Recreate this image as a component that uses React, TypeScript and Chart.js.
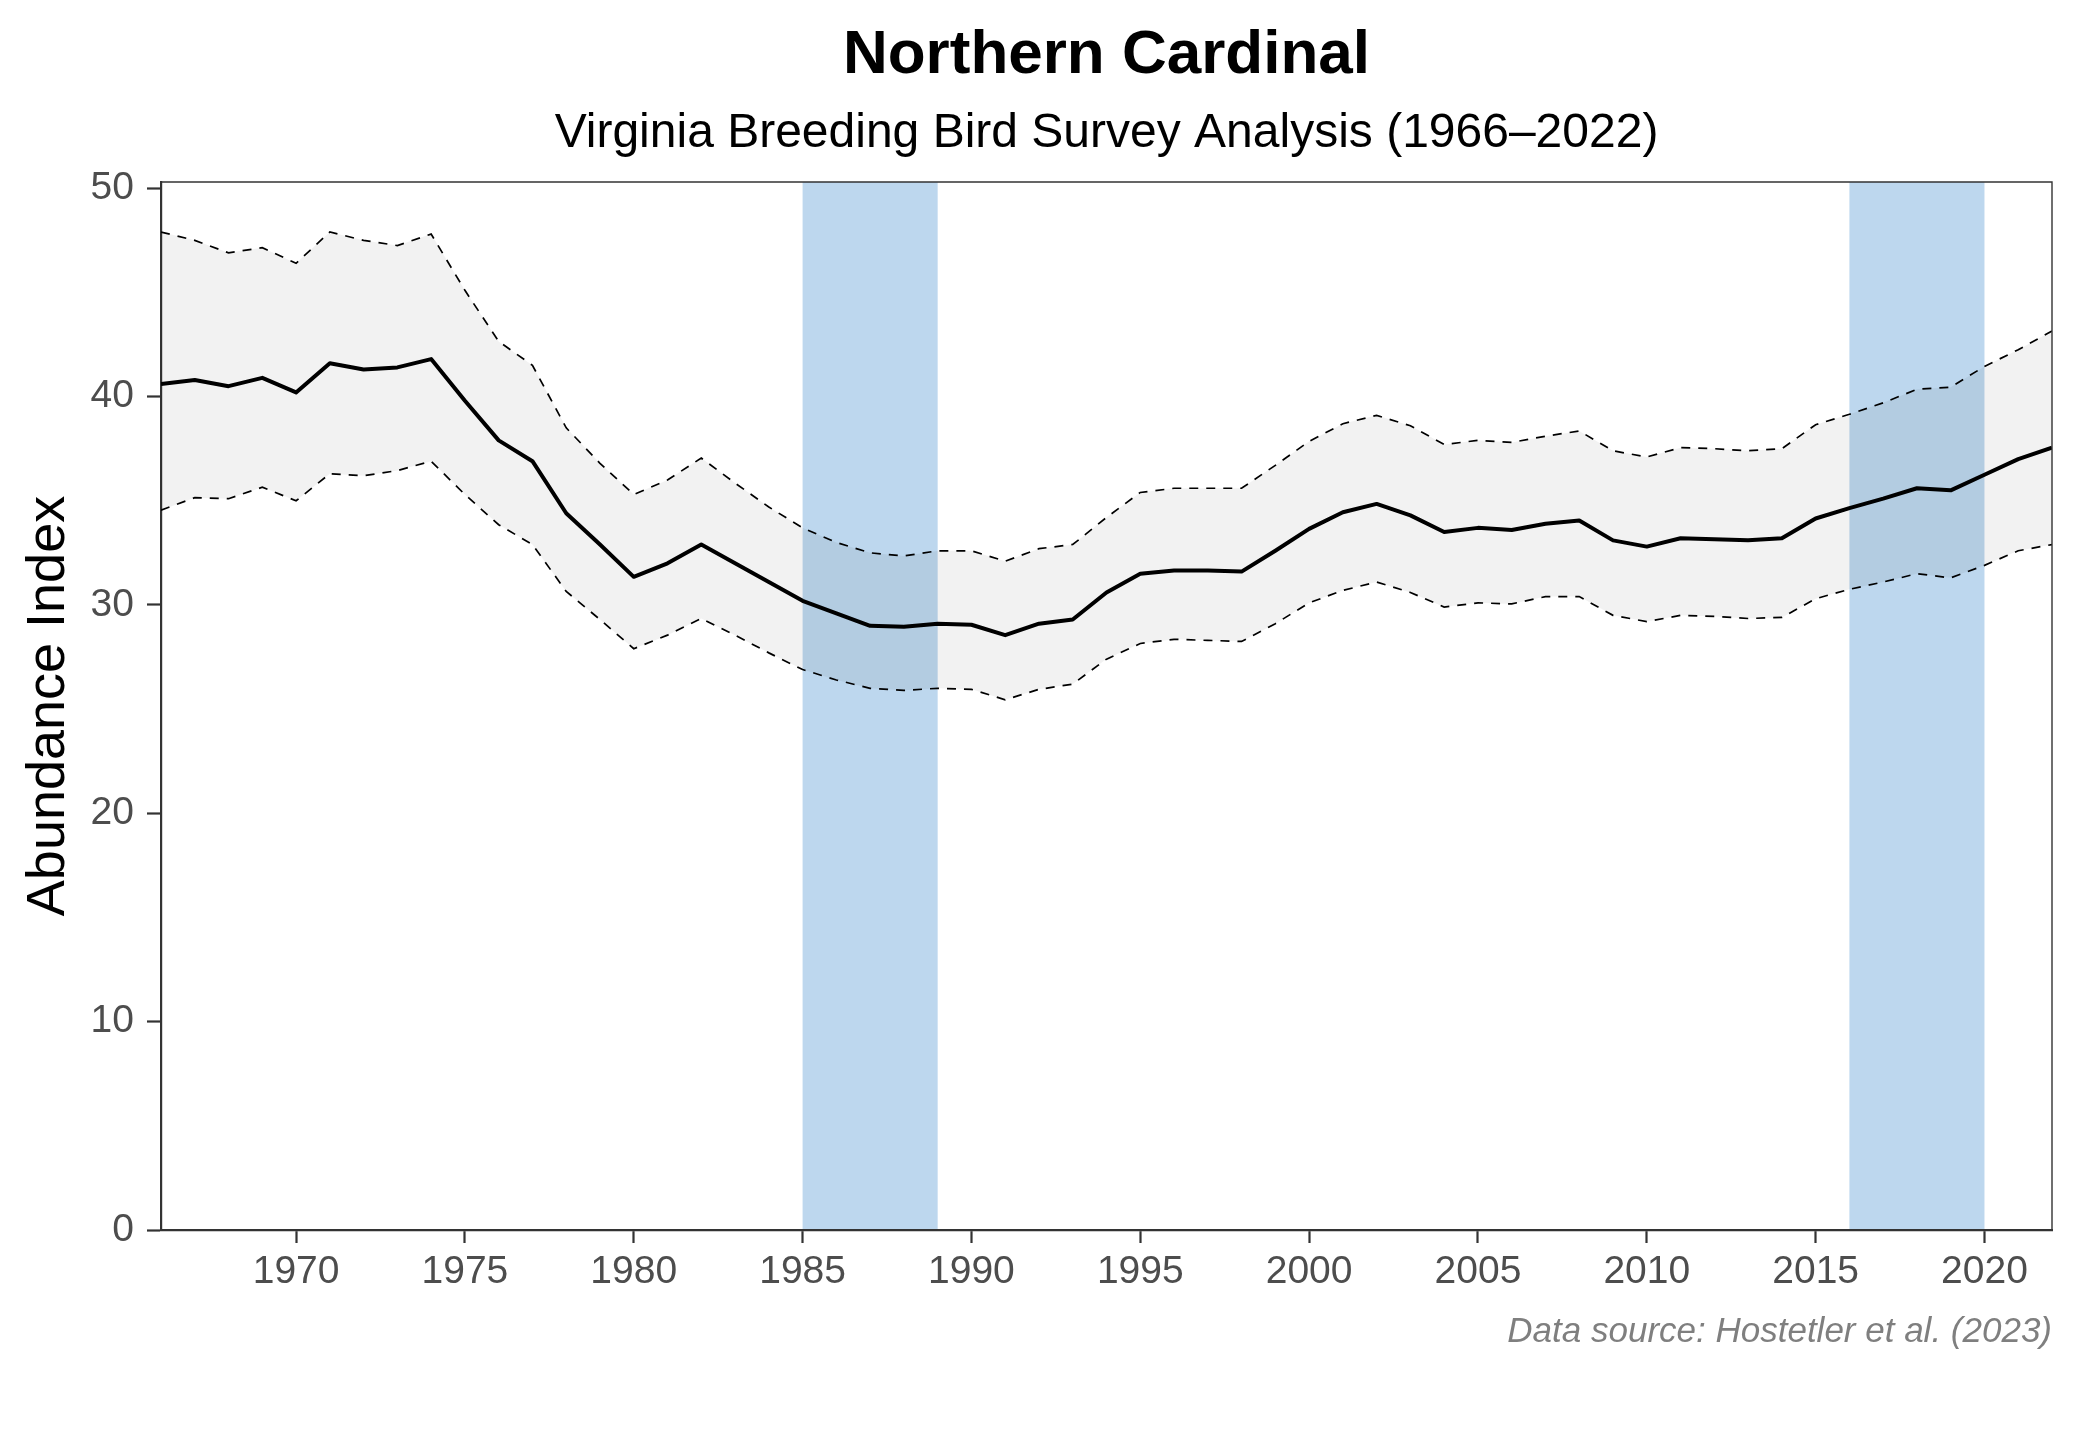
import React, { useEffect, useRef } from "react";
import { Chart, registerables } from "chart.js";

Chart.register(...registerables);

const TITLE = "Northern Cardinal";
const SUBTITLE = "Virginia Breeding Bird Survey Analysis (1966–2022)";
const Y_TITLE = "Abundance Index";
const CAPTION = "Data source: Hostetler et al. (2023)";

const years = [
  1966, 1967, 1968, 1969, 1970, 1971, 1972, 1973, 1974, 1975,
  1976, 1977, 1978, 1979, 1980, 1981, 1982, 1983, 1984, 1985,
  1986, 1987, 1988, 1989, 1990, 1991, 1992, 1993, 1994, 1995,
  1996, 1997, 1998, 1999, 2000, 2001, 2002, 2003, 2004, 2005,
  2006, 2007, 2008, 2009, 2010, 2011, 2012, 2013, 2014, 2015,
  2016, 2017, 2018, 2019, 2020, 2021, 2022,
];

const abundance = [
  40.6, 40.8, 40.5, 40.9, 40.2, 41.6, 41.3, 41.4, 41.8, 39.8,
  37.9, 36.9, 34.4, 32.9, 31.35, 32.0, 32.9, 32.0, 31.1, 30.2,
  29.6, 29.0, 28.95, 29.1, 29.05, 28.55, 29.1, 29.3, 30.6, 31.5,
  31.65, 31.65, 31.6, 32.6, 33.65, 34.45, 34.85, 34.3, 33.5, 33.7,
  33.6, 33.9, 34.05, 33.1, 32.8, 33.2, 33.15, 33.1, 33.2, 34.15,
  34.65, 35.1, 35.6, 35.5, 36.25, 37.0, 37.55,
];

const upperCI = [
  47.9, 47.5, 46.9, 47.15, 46.4, 47.9, 47.5, 47.25, 47.8, 45.1,
  42.65, 41.5, 38.5, 36.8, 35.3, 36.0, 37.05, 35.85, 34.7, 33.7,
  33.0, 32.5, 32.35, 32.6, 32.6, 32.1, 32.7, 32.9, 34.2, 35.4,
  35.6, 35.6, 35.6, 36.7, 37.85, 38.7, 39.1, 38.6, 37.7, 37.9,
  37.8, 38.1, 38.35, 37.4, 37.1, 37.55, 37.5, 37.4, 37.5, 38.65,
  39.15, 39.7, 40.35, 40.45, 41.45, 42.25, 43.15,
];

const lowerCI = [
  34.55, 35.15, 35.1, 35.65, 35.0, 36.3, 36.2, 36.45, 36.9, 35.3,
  33.85, 32.9, 30.65, 29.3, 27.9, 28.55, 29.35, 28.55, 27.7, 26.9,
  26.4, 26.0, 25.9, 26.0, 25.95, 25.45, 25.95, 26.2, 27.4, 28.15,
  28.35, 28.3, 28.25, 29.1, 30.1, 30.7, 31.1, 30.6, 29.9, 30.1,
  30.05, 30.4, 30.4, 29.5, 29.2, 29.5, 29.45, 29.35, 29.4, 30.3,
  30.75, 31.1, 31.5, 31.3, 31.9, 32.6, 32.9,
];

const xTicks = [1970, 1975, 1980, 1985, 1990, 1995, 2000, 2005, 2010, 2015, 2020];
const yTicks = [0, 10, 20, 30, 40, 50];

const bandStarts = [1985, 2016];
const bandEnds = [1989, 2020];

const FONT = "'Liberation Sans', Arial, Helvetica, sans-serif";

export default function App() {
  const canvasRef = useRef<HTMLCanvasElement | null>(null);

  useEffect(() => {
    const canvas = canvasRef.current;
    if (!canvas) return;
    Chart.defaults.font.family = FONT;

    const bandPlugin = {
      id: "bands",
      beforeDraw(chart: any) {
        const { ctx, chartArea, scales } = chart;
        const xs = scales.x;
        ctx.save();
        ctx.fillStyle = "rgb(189, 215, 238)";
        for (let i = 0; i < bandStarts.length; i++) {
          const x0 = xs.getPixelForValue(bandStarts[i]);
          const x1 = xs.getPixelForValue(bandEnds[i]);
          ctx.fillRect(x0, chartArea.top, x1 - x0, chartArea.bottom - chartArea.top);
        }
        ctx.restore();
      },
    };

    const textPlugin = {
      id: "texts",
      afterDraw(chart: any) {
        const { ctx, chartArea } = chart;
        const cx = (chartArea.left + chartArea.right) / 2;
        ctx.save();
        // panel border top & right
        ctx.strokeStyle = "#333333";
        ctx.lineWidth = 1.4;
        ctx.beginPath();
        ctx.moveTo(chartArea.left, chartArea.top);
        ctx.lineTo(chartArea.right, chartArea.top);
        ctx.lineTo(chartArea.right, chartArea.bottom);
        ctx.stroke();

        ctx.textBaseline = "alphabetic";
        ctx.textAlign = "center";
        ctx.fillStyle = "#000000";
        ctx.font = `bold 62px ${FONT}`;
        ctx.fillText(TITLE, cx, 73);
        ctx.font = `48px ${FONT}`;
        ctx.fillText(SUBTITLE, cx, 147);

        ctx.textAlign = "right";
        ctx.fillStyle = "#7f7f7f";
        ctx.font = `italic 35px ${FONT}`;
        ctx.fillText(CAPTION, chartArea.right, 1342);
        ctx.restore();
      },
    };

    const chart = new Chart(canvas, {
      type: "line",
      data: {
        datasets: [
          {
            label: "Abundance",
            data: years.map((yr, i) => ({ x: yr, y: abundance[i] })),
            borderColor: "#000000",
            borderWidth: 4,
            pointRadius: 0,
            tension: 0,
            fill: false,
            borderJoinStyle: "round",
          },
          {
            label: "Upper",
            data: years.map((yr, i) => ({ x: yr, y: upperCI[i] })),
            borderColor: "#000000",
            borderWidth: 1.7,
            borderDash: [9, 8],
            pointRadius: 0,
            tension: 0,
            fill: "+1",
            backgroundColor: "rgba(0,0,0,0.05)",
          },
          {
            label: "Lower",
            data: years.map((yr, i) => ({ x: yr, y: lowerCI[i] })),
            borderColor: "#000000",
            borderWidth: 1.7,
            borderDash: [9, 8],
            pointRadius: 0,
            tension: 0,
            fill: false,
          },
        ],
      },
      options: {
        responsive: false,
        animation: false,
        devicePixelRatio: 1,
        layout: { padding: { top: 182, right: 28, bottom: 140, left: 0 } },
        plugins: {
          legend: { display: false },
          tooltip: { enabled: false },
          title: { display: false },
        },
        scales: {
          x: {
            type: "linear",
            min: 1966,
            max: 2022,
            afterBuildTicks: (s: any) => {
              s.ticks = xTicks.map((v) => ({ value: v }));
            },
            afterFit: (s: any) => {
              s.height = 70;
            },
            ticks: {
              autoSkip: false,
              maxRotation: 0,
              color: "#4d4d4d",
              font: { size: 39 },
              padding: 6,
              callback: (v: any) => String(v),
            },
            grid: {
              drawOnChartArea: false,
              drawTicks: true,
              tickLength: 13,
              tickWidth: 2.2,
              tickColor: "#333333",
            },
            border: { display: true, color: "#333333", width: 2.2 },
          },
          y: {
            type: "linear",
            min: 0,
            max: 50.3,
            afterBuildTicks: (s: any) => {
              s.ticks = yTicks.map((v) => ({ value: v }));
            },
            afterFit: (s: any) => {
              s.width = 161;
            },
            ticks: {
              autoSkip: false,
              color: "#4d4d4d",
              font: { size: 39 },
              padding: 13,
              callback: (v: any) => String(v),
            },
            grid: {
              drawOnChartArea: false,
              drawTicks: true,
              tickLength: 14,
              tickWidth: 2.2,
              tickColor: "#333333",
            },
            border: { display: true, color: "#333333", width: 2.2 },
            title: {
              display: true,
              text: Y_TITLE,
              color: "#000000",
              font: { size: 54 },
              padding: { top: 17, bottom: 0 },
            },
          },
        },
      },
      plugins: [bandPlugin, textPlugin],
    } as any);

    return () => {
      chart.destroy();
    };
  }, []);

  return (
    <div style={{ position: "absolute", left: 0, top: 0, width: 2080, height: 1440, background: "#ffffff" }}>
      <canvas ref={canvasRef} width={2080} height={1440} style={{ width: 2080, height: 1440, display: "block" }} />
    </div>
  );
}
